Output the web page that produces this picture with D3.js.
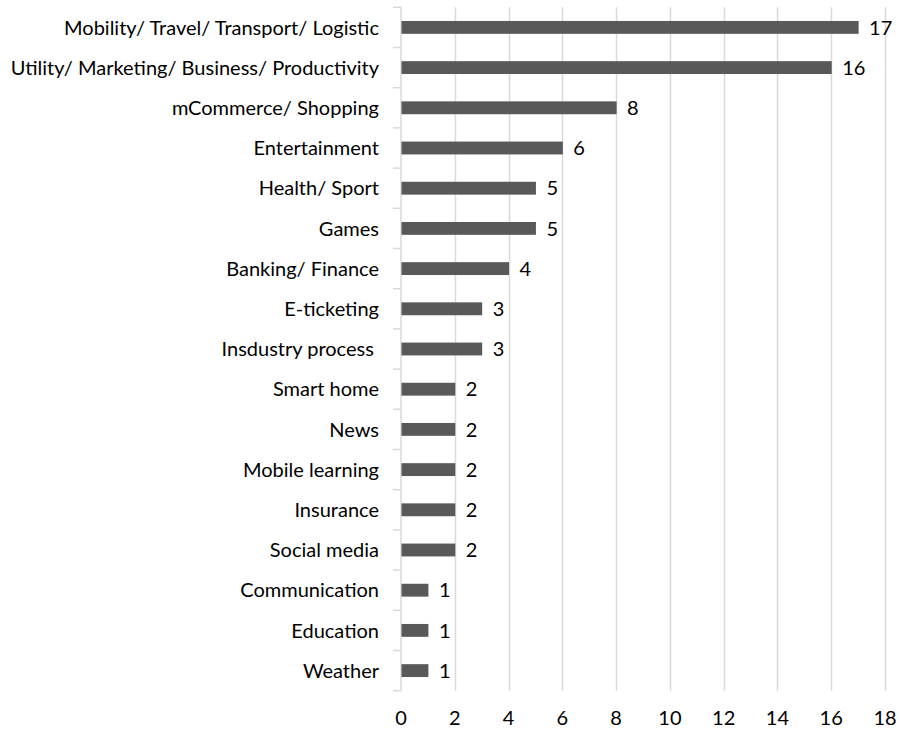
<!DOCTYPE html>
<html><head><meta charset="utf-8">
<script src="https://cdn.jsdelivr.net/npm/d3@7"></script>
<style>body{margin:0;background:#fff}svg{display:block}text{font-family:Lato,"Open Sans",sans-serif;fill:#000;white-space:pre}</style>
</head><body><div id="chart"></div>
<script>
const categories = ["Mobility/ Travel/ Transport/ Logistic","Utility/ Marketing/ Business/ Productivity","mCommerce/ Shopping","Entertainment","Health/ Sport","Games","Banking/ Finance","E-ticketing","Insdustry process ","Smart home","News","Mobile learning","Insurance","Social media","Communication","Education","Weather"];
const values = [17,16,8,6,5,5,4,3,3,2,2,2,2,2,1,1,1];
const xTicks = [0,2,4,6,8,10,12,14,16,18];

(function(){
const W=901,H=734,FS=20;
const mL=401,mR=885,mT=7.3,mB=690.7;
const svg=d3.select("#chart").append("svg").attr("width",W).attr("height",H);
const x=d3.scaleLinear().domain([0,18]).range([mL,mR]);
const y=d3.scaleBand().domain(categories).range([mT,mB]).paddingInner(0.68).paddingOuter(0.34);
const yb=d3.scaleBand().domain(categories).range([mT,mB]);

// gridlines
svg.append("g").selectAll("line").data(xTicks.slice(1)).join("line")
 .attr("x1",d=>Math.round(x(d))+0.5).attr("x2",d=>Math.round(x(d))+0.5)
 .attr("y1",mT).attr("y2",mB).attr("stroke","#d9d9d9").attr("stroke-width",1.5);

// y axis line
const ga=svg.append("g").attr("transform",`translate(${mL},0)`);
ga.append("line").attr("x1",0).attr("x2",0).attr("y1",mT).attr("y2",mB)
 .attr("stroke","#d9d9d9").attr("stroke-width",1.5);
ga.append("g").selectAll("line").data(d3.range(categories.length+1)).join("line")
 .attr("x1",-8).attr("x2",0).attr("y1",i=>mT+i*yb.step()).attr("y2",i=>mT+i*yb.step())
 .attr("stroke","#d9d9d9").attr("stroke-width",1.5);

// bars
svg.append("g").selectAll("rect").data(values).join("rect")
 .attr("x",x(0)+0.5).attr("y",(d,i)=>y(categories[i])).attr("height",y.bandwidth())
 .attr("width",d=>x(d)-x(0)).attr("fill","#595959");

// value labels
svg.append("g").selectAll("text").data(values).join("text")
 .attr("x",d=>x(d)+11).attr("y",(d,i)=>yb(categories[i])+yb.bandwidth()/2)
 .attr("dy","0.36em").attr("font-size",FS).text(d=>d);

// category labels
svg.append("g").selectAll("text").data(categories).join("text")
 .attr("x",mL-22).attr("y",d=>yb(d)+yb.bandwidth()/2).attr("dy","0.36em")
 .attr("text-anchor","end").attr("font-size",FS).text(d=>d);

// x tick labels
svg.append("g").selectAll("text").data(xTicks).join("text")
 .attr("x",d=>x(d)).attr("y",718).attr("dy","0.36em").attr("text-anchor","middle")
 .attr("font-size",FS).text(d=>d);
})();
</script></body></html>
